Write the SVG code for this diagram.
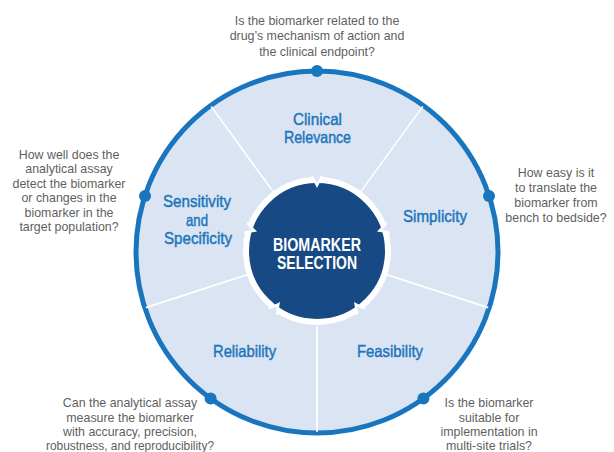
<svg xmlns="http://www.w3.org/2000/svg" xmlns:xlink="http://www.w3.org/1999/xlink" width="614" height="452" viewBox="0 0 614 452">
  <style>
    .q { font-family: 'Liberation Sans', Arial, sans-serif; font-size: 12.4px; fill: #5f5f61; text-anchor: middle; }
    .lbl { font-family: 'Liberation Sans Narrow', 'Liberation Sans', Arial, sans-serif; font-size: 16.5px; fill: #1c76bc; stroke: #1c76bc; stroke-width: 0.45; text-anchor: middle; }
    .ctr { font-family: 'Liberation Sans Narrow', 'Liberation Sans', Arial, sans-serif; font-size: 18px; font-weight: bold; fill: #ffffff; text-anchor: middle; }
    .sep { stroke: #ffffff; stroke-width: 1.6; }
    .dot { fill: #1a75bf; }
  </style>
  <defs>
    <!-- chevron notch cut into the hub, drawn at the top position -->
    <g id="notch">
      <polygon points="311,176 323,176 317,188" fill="#ffffff"/>
      <polygon points="312,174 322,174 317,182.5" fill="#dbe4f2"/>
    </g>
    <line id="spoke" x1="317" y1="178" x2="317" y2="72" class="sep"/>
  </defs>

  <rect width="614" height="452" fill="#ffffff"/>

  <!-- outer wheel -->
  <g id="wheel">
    <circle cx="317" cy="252" r="181" fill="#dbe4f2" stroke="#1a75bf" stroke-width="5"/>
  </g>

  <!-- spokes dividing the five segments -->
  <g id="connectors">
    <use xlink:href="#spoke" transform="rotate(-36 317 252)"/>
    <use xlink:href="#spoke" transform="rotate(36 317 252)"/>
    <use xlink:href="#spoke" transform="rotate(108 317 252)"/>
    <use xlink:href="#spoke" transform="rotate(180 317 252)"/>
    <use xlink:href="#spoke" transform="rotate(252 317 252)"/>
  </g>

  <!-- central hub -->
  <g id="hub">
    <circle cx="317" cy="251" r="71" fill="#174a85" stroke="#ffffff" stroke-width="6"/>
    <use xlink:href="#notch"/>
    <use xlink:href="#notch" transform="rotate(72 317 251)"/>
    <use xlink:href="#notch" transform="rotate(144 317 251)"/>
    <use xlink:href="#notch" transform="rotate(216 317 251)"/>
    <use xlink:href="#notch" transform="rotate(288 317 251)"/>
    <text class="ctr" x="317" y="250.5" textLength="88" lengthAdjust="spacingAndGlyphs">BIOMARKER</text>
    <text class="ctr" x="317" y="269" textLength="80" lengthAdjust="spacingAndGlyphs">SELECTION</text>
  </g>

  <g id="clinical-relevance">
    <circle class="dot" cx="317" cy="71" r="6"/>
    <text class="lbl" x="317.5" y="125" textLength="49" lengthAdjust="spacingAndGlyphs">Clinical</text>
    <text class="lbl" x="317.5" y="143" textLength="67" lengthAdjust="spacingAndGlyphs">Relevance</text>
    <text class="q" x="317" y="24.5">Is the biomarker related to the</text>
    <text class="q" x="317" y="40">drug’s mechanism of action and</text>
    <text class="q" x="317" y="55.5">the clinical endpoint?</text>
  </g>

  <g id="simplicity">
    <circle class="dot" cx="489" cy="196" r="6"/>
    <text class="lbl" x="435" y="222" textLength="64" lengthAdjust="spacingAndGlyphs">Simplicity</text>
    <text class="q" x="556" y="177">How easy is it</text>
    <text class="q" x="556" y="192">to translate the</text>
    <text class="q" x="556" y="207">biomarker from</text>
    <text class="q" x="556" y="222">bench to bedside?</text>
  </g>

  <g id="feasibility">
    <circle class="dot" cx="423.4" cy="398.4" r="6"/>
    <text class="lbl" x="390" y="357" textLength="66" lengthAdjust="spacingAndGlyphs">Feasibility</text>
    <text class="q" x="489" y="407">Is the biomarker</text>
    <text class="q" x="489" y="421.5">suitable for</text>
    <text class="q" x="489" y="436">implementation in</text>
    <text class="q" x="489" y="450">multi-site trials?</text>
  </g>

  <g id="reliability">
    <circle class="dot" cx="210.6" cy="398.4" r="6"/>
    <text class="lbl" x="244.5" y="357" textLength="63" lengthAdjust="spacingAndGlyphs">Reliability</text>
    <text class="q" x="130" y="407">Can the analytical assay</text>
    <text class="q" x="130" y="421.5">measure the biomarker</text>
    <text class="q" x="130" y="436">with accuracy, precision,</text>
    <text class="q" x="130" y="450" textLength="168" lengthAdjust="spacingAndGlyphs">robustness, and reproducibility?</text>
  </g>

  <g id="sensitivity-specificity">
    <circle class="dot" cx="145" cy="196" r="6"/>
    <text class="lbl" x="197" y="207" textLength="68" lengthAdjust="spacingAndGlyphs">Sensitivity</text>
    <text class="lbl" x="197" y="225.5" textLength="22" lengthAdjust="spacingAndGlyphs">and</text>
    <text class="lbl" x="198" y="244" textLength="68" lengthAdjust="spacingAndGlyphs">Specificity</text>
    <text class="q" x="69" y="158.5">How well does the</text>
    <text class="q" x="69" y="173">analytical assay</text>
    <text class="q" x="69" y="187.5">detect the biomarker</text>
    <text class="q" x="69" y="202">or changes in the</text>
    <text class="q" x="69" y="216.5">biomarker in the</text>
    <text class="q" x="69" y="231">target population?</text>
  </g>
</svg>
